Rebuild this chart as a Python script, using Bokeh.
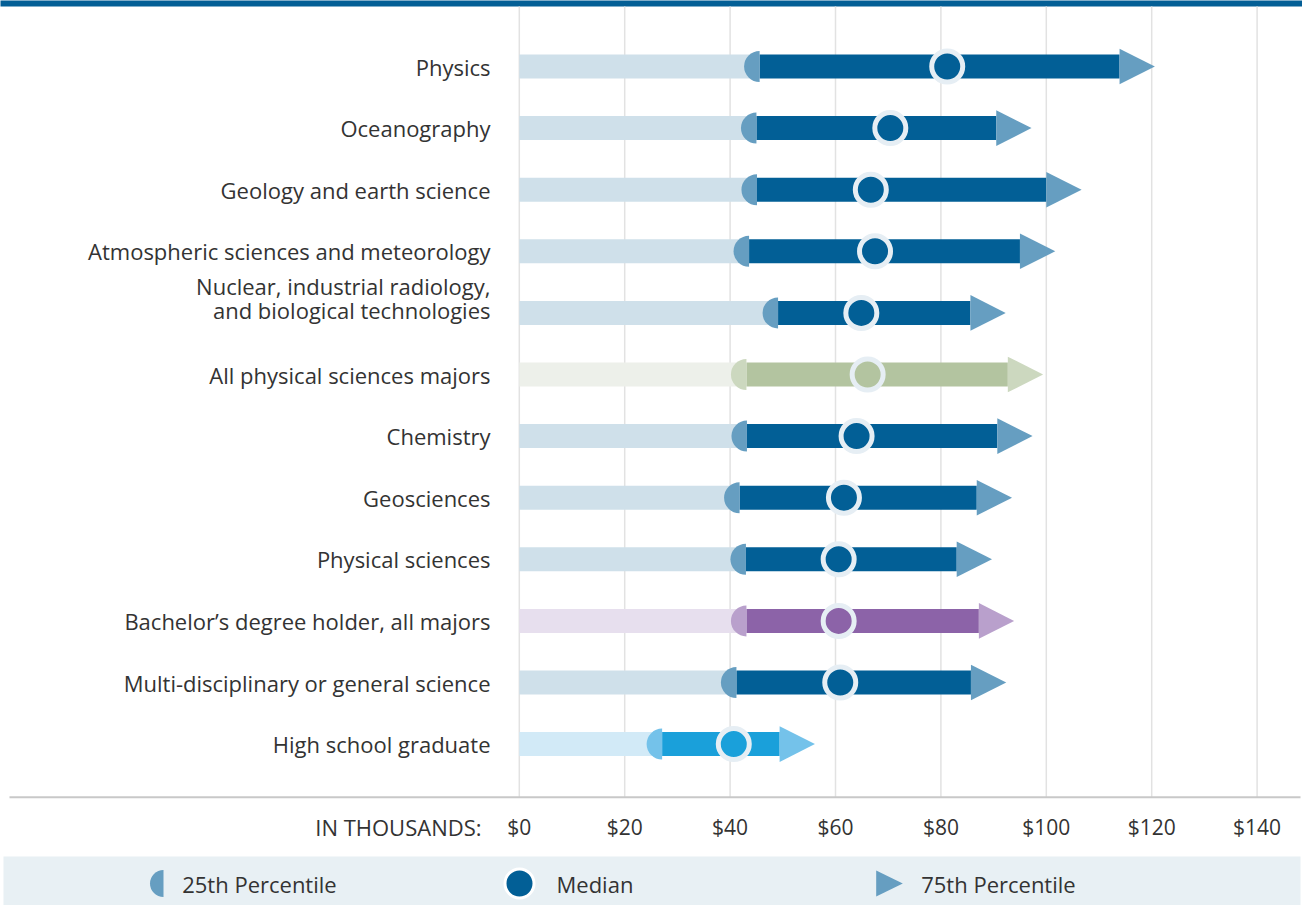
import math
from bokeh.plotting import figure
from bokeh.models import ColumnDataSource, Range1d
from bokeh.core.properties import value
from bokeh.embed import file_html
from bokeh.resources import INLINE

# ---------------- data ----------------
categories = [
    "Physics",
    "Oceanography",
    "Geology and earth science",
    "Atmospheric sciences and meteorology",
    "Nuclear, industrial radiology,\nand biological technologies",
    "All physical sciences majors",
    "Chemistry",
    "Geosciences",
    "Physical sciences",
    "Bachelor\u2019s degree holder, all majors",
    "Multi-disciplinary or general science",
    "High school graduate",
]
p25 = [45.6, 45.0, 45.1, 43.6, 49.1, 43.1, 43.2, 41.8, 43.0, 43.1, 41.2, 27.1]
median = [81.2, 70.4, 66.7, 67.5, 64.9, 66.1, 64.0, 61.6, 60.6, 60.6, 60.9, 40.7]
p75 = [113.9, 90.5, 100.0, 95.0, 85.6, 92.7, 90.7, 86.8, 83.0, 87.2, 85.7, 49.4]
groups = ["field", "field", "field", "field", "field", "physical",
          "field", "field", "field", "bachelor", "field", "highschool"]

tick_values = [0, 20, 40, 60, 80, 100, 120, 140]
tick_labels = ["$0", "$20", "$40", "$60", "$80", "$100", "$120", "$140"]
axis_title = "IN THOUSANDS:"
legend_labels = ["25th Percentile", "Median", "75th Percentile"]

# ---------------- styles ----------------
PALETTE = {
    "field":      dict(light="#cfe0ea", bar="#025f96", marker="#669ec1", mid="#025f96"),
    "physical":   dict(light="#edf0ea", bar="#b3c4a0", marker="#ccd8bf", mid="#b3c4a0"),
    "bachelor":   dict(light="#e7dfee", bar="#8c63a8", marker="#b9a0cc", mid="#8c63a8"),
    "highschool": dict(light="#d2eaf7", bar="#1aa0da", marker="#74c2ea", mid="#1aa0da"),
}
RING = "#e6eef4"
TEXT = "#333333"
FONT = value("Open Sans")

W, H = 1302, 905
X0_PX = 518.8        # screen x of $0
PX_PER_K = 5.27      # pixels per $1k
ROW0_PX = 66.0       # screen y of first row
ROW_PX = 61.6        # row spacing in px


def dx(px):
    return (px - X0_PX) / PX_PER_K


def dy(py):
    return (py - ROW0_PX) / ROW_PX


p = figure(
    width=W, height=H,
    x_range=Range1d(dx(0), dx(W)),
    y_range=Range1d(dy(H), dy(0)),
    x_axis_location=None, y_axis_location=None,
    toolbar_location=None, output_backend="svg",
    min_border=0, outline_line_color=None,
    background_fill_color="white", border_fill_color="white",
)
p.grid.visible = False

rows = list(range(len(categories)))
src = ColumnDataSource(dict(
    y=rows,
    p25=p25, median=median, p75=p75,
    zero=[0] * len(rows),
    light=[PALETTE[g]["light"] for g in groups],
    bar=[PALETTE[g]["bar"] for g in groups],
    marker=[PALETTE[g]["marker"] for g in groups],
    mid=[PALETTE[g]["mid"] for g in groups],
))

# top rule
p.quad(left=dx(-10), right=dx(W + 10), top=dy(-10), bottom=dy(6),
       fill_color="#035f96", line_color=None)

# vertical grid lines
p.segment(x0=tick_values, y0=[dy(6)] * len(tick_values),
          x1=tick_values, y1=[dy(796.7)] * len(tick_values),
          line_color="#e2e2e2", line_width=1.5)

# axis baseline
p.segment(x0=[dx(9)], y0=[dy(796.7)], x1=[dx(1300)], y1=[dy(796.7)],
          line_color="#c8c8c8", line_width=2)

bar_h = 24 / ROW_PX
p.hbar(y="y", left="zero", right="p25", height=bar_h, fill_color="light",
       line_color=None, source=src)
p.hbar(y="y", left="p25", right="p75", height=bar_h, fill_color="bar",
       line_color=None, source=src)

# 25th percentile half circles
p.wedge(x="p25", y="y", radius=15.5, radius_units="screen",
        start_angle=math.pi / 2, end_angle=3 * math.pi / 2, direction="anticlock",
        fill_color="marker", line_color=None, source=src)

# 75th percentile triangles
tri_len = 35.3 / PX_PER_K
tri_half = 17.8 / ROW_PX
tri_xs = [[v, v, v + tri_len] for v in p75]
tri_ys = [[r - tri_half, r + tri_half, r] for r in rows]
p.patches(xs=tri_xs, ys=tri_ys,
          fill_color=[PALETTE[g]["marker"] for g in groups], line_color=None)

# medians
p.scatter(x="median", y="y", size=31, marker="circle", fill_color="mid",
          line_color=RING, line_width=5, source=src)

# category labels
lab_x, lab_y, lab_t, lab_off = [], [], [], []
for i, cat in enumerate(categories):
    lines = cat.split("\n")
    n = len(lines)
    for k, line in enumerate(lines):
        lab_x.append(dx(490))
        lab_y.append(i)
        lab_t.append(line)
        lab_off.append(-(n - 1 - k) * 24.2 - (3 if n > 1 else 0))
p.text(x=lab_x, y=lab_y, text=lab_t, y_offset=lab_off,
       text_align="right", text_baseline="middle",
       text_font=FONT, text_font_size=value("22px"), text_color=TEXT)

# tick labels
p.text(x=tick_values, y=[dy(826.7)] * len(tick_values), text=tick_labels,
       text_align="center", text_baseline="middle",
       text_font=FONT, text_font_size=value("21px"), text_color=TEXT)
p.text(x=[dx(481)], y=[dy(826.7)], text=[axis_title],
       text_align="right", text_baseline="middle",
       text_font=FONT, text_font_size=value("22px"), text_color=TEXT)

# legend band
p.quad(left=dx(3), right=dx(1300), top=dy(856), bottom=dy(H + 10),
       fill_color="#e8f0f4", line_color=None)
ly = dy(883)
blue = PALETTE["field"]
p.wedge(x=[dx(163)], y=[ly], radius=13.5, radius_units="screen",
        start_angle=math.pi / 2, end_angle=3 * math.pi / 2, direction="anticlock",
        fill_color=blue["marker"], line_color=None)
p.scatter(x=[dx(519)], y=[ly], size=29, marker="circle", fill_color=blue["mid"],
          line_color="white", line_width=3)
p.patches(xs=[[dx(875.7), dx(875.7), dx(902.3)]],
          ys=[[dy(870), dy(896), ly]],
          fill_color=blue["marker"], line_color=None)
p.text(x=[dx(181.7), dx(556), dx(920.7)], y=[ly] * 3, text=legend_labels,
       text_align="left", text_baseline="middle",
       text_font=FONT, text_font_size=value("22px"), text_color=TEXT)

open("out.html", "w").write(file_html(p, INLINE))
